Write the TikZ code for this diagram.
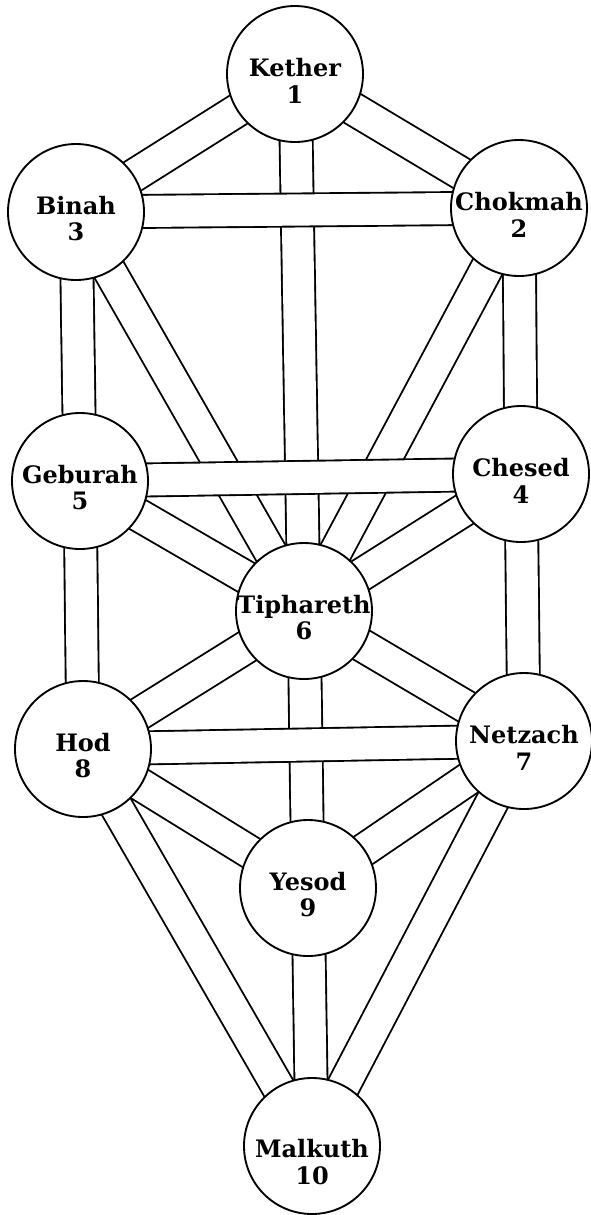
\documentclass[tikz,border=0pt]{standalone}
\usepackage{fontspec}
\setmainfont{DejaVu Serif}
\usetikzlibrary{backgrounds}

\begin{document}
\begin{tikzpicture}[x=0.75pt,y=-0.75pt,
  sefira/.style={circle,draw,line width=1.4pt,fill=white,minimum size=102pt,inner sep=0pt},
  sefname/.style={font=\fontsize{18}{20}\selectfont\bfseries,align=center,inner sep=0pt,yshift=-5pt},
  channel/.style={line width=26.2pt},
  channelin/.style={white,line width=23.4pt}]
\useasboundingbox (0,0) rectangle (591,1215);
% the ten circles
\node[sefira] (kether) at (295,74) {};
\node[sefira] (chokmah) at (519,208) {};
\node[sefira] (binah) at (76,212) {};
\node[sefira] (chesed) at (521,474) {};
\node[sefira] (geburah) at (80,481) {};
\node[sefira] (tiphareth) at (304,611) {};
\node[sefira] (netzach) at (524,741) {};
\node[sefira] (hod) at (83,749) {};
\node[sefira] (yesod) at (308,888) {};
\node[sefira] (malkuth) at (312,1146) {};
\foreach \s/\t/\n in {kether/Kether/1,chokmah/Chokmah/2,binah/Binah/3,chesed/Chesed/4,geburah/Geburah/5,
  tiphareth/Tiphareth/6,netzach/Netzach/7,hod/Hod/8,yesod/Yesod/9}
  \node[sefname] (\s-l) at (\s) {\t\\\n};
\node[sefname,yshift=-7pt] (malkuth-l) at (malkuth) {Malkuth\\10};
% the 22 paths, horizontals last so they lie over the others
\begin{scope}[on background layer]
\foreach \a/\b in {kether/binah,kether/chokmah,kether/tiphareth,binah/tiphareth,chokmah/tiphareth,
  binah/geburah,chokmah/chesed,geburah/tiphareth,chesed/tiphareth,geburah/hod,chesed/netzach,
  tiphareth/hod,tiphareth/netzach,tiphareth/yesod,hod/yesod,netzach/yesod,hod/malkuth,
  netzach/malkuth,yesod/malkuth,binah/chokmah,geburah/chesed,hod/netzach}
  {\draw[channel] (\a.center) -- (\b.center); \draw[channelin] (\a.center) -- (\b.center);}
\end{scope}
\end{tikzpicture}
\end{document}
